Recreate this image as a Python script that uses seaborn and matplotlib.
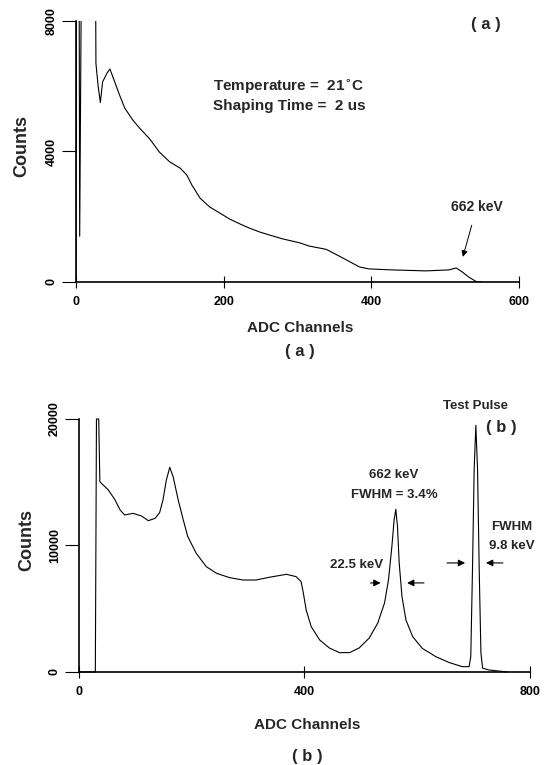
import matplotlib
matplotlib.use("Agg")
import matplotlib.pyplot as plt
import seaborn as sns

#------------------------------------------------------------------
# (a) spectrum at 21 C, 2 us shaping time
a_channel = [0, 1, 4, 5, 8, 26, 27, 30, 33, 36, 42, 46, 50, 59, 66, 77, 86, 100,
             113, 127, 141, 150, 157, 168, 181, 195, 208, 222, 235, 249, 262, 280,
             303, 316, 339, 361, 384, 397, 428, 474, 505, 515, 523, 532, 543, 550]
a_counts = [0, 12000, 12000, 1400, 12000, 12000, 6700, 6000, 5500, 6130, 6400, 6530,
            6280, 5730, 5330, 4960, 4720, 4380, 3980, 3680, 3490, 3280, 2970, 2570,
            2300, 2110, 1930, 1780, 1650, 1530, 1440, 1320, 1200, 1100, 1000, 740,
            460, 400, 370, 340, 370, 430, 310, 150, 0, 0]
a_xticks = [0, 200, 400, 600]
a_yticks = [0, 4000, 8000]

# (b) spectrum with test pulse
b_channel = [0, 29, 31, 35, 37, 43, 52, 64, 73, 81, 96, 111, 123, 135, 143, 149, 155,
             161, 167, 176, 185, 193, 208, 226, 244, 267, 291, 314, 338, 368, 385, 394,
             398, 403, 412, 427, 444, 462, 480, 497, 515, 530, 542, 549, 555, 559, 562,
             565, 568, 573, 580, 592, 609, 633, 657, 680, 692, 695, 698, 701, 704, 707,
             710, 713, 716, 727, 760]
b_counts = [0, 0, 20000, 20000, 15040, 14780, 14390, 13600, 12810, 12410, 12540, 12330,
            11960, 12150, 12590, 13600, 15180, 16180, 15440, 13600, 12020, 10700, 9380,
            8320, 7800, 7460, 7270, 7270, 7490, 7720, 7540, 7140, 6240, 4900, 3580, 2530,
            1900, 1530, 1530, 1900, 2690, 3870, 5450, 7270, 9900, 12020, 12860, 11490,
            8620, 5950, 4110, 2790, 1870, 1210, 740, 420, 420, 1210, 8000, 16000, 19500,
            16000, 8000, 1500, 300, 160, 0]
b_xticks = [0, 400, 800]
b_yticks = [0, 10000, 20000]
#------------------------------------------------------------------

sns.set_style("white")
plt.rcParams['font.family'] = ['Liberation Sans', 'DejaVu Sans']
plt.rcParams['font.weight'] = 'bold'
plt.rcParams['axes.labelweight'] = 'bold'

fig = plt.figure(figsize=(5.44, 7.65), dpi=100)
ax_a = fig.add_axes([0.1397, 0.6314, 0.8143, 0.3412])
ax_b = fig.add_axes([0.1452, 0.1216, 0.829, 0.3307])


def style_axes(ax, xticks, yticks, xlim, ylim, xlab_y, ylab_x):
    ax.set_xlim(*xlim)
    ax.set_ylim(*ylim)
    ax.set_xticks(xticks)
    ax.set_yticks(yticks)
    ax.set_xticklabels([str(t) for t in xticks])
    ax.set_yticklabels([str(t) for t in yticks])
    for s in ['top', 'right']:
        ax.spines[s].set_visible(False)
    for s in ['left', 'bottom']:
        ax.spines[s].set_linewidth(1.2)
        ax.spines[s].set_color('black')
    ax.tick_params(axis='x', direction='inout', length=8, width=0.8, pad=6,
                   labelsize=9, colors='black', bottom=True)
    ax.tick_params(axis='y', direction='out', length=10, width=0.8, pad=3,
                   labelsize=9, labelrotation=90, colors='black', left=True)
    for lab in ax.get_yticklabels():
        lab.set_va('center')
    ax.set_xlabel('ADC Channels', fontsize=11, fontweight='bold')
    ax.set_ylabel('Counts', fontsize=13, fontweight='bold')
    ax.xaxis.set_label_coords(0.506, xlab_y)
    ax.xaxis.label.set_va('center')
    ax.yaxis.set_label_coords(ylab_x, 0.52)
    ax.yaxis.label.set_va('center')
    ax.set_facecolor('white')


#-----------------------------
# panel (a)
sns.lineplot(x=a_channel, y=a_counts, ax=ax_a, color='black', lw=0.8, estimator=None)
style_axes(ax_a, a_xticks, a_yticks, (0, 600), (0, 8000), -0.176, -0.122)

ax_a.text(555, 7880, '( a )', fontsize=12, ha='center', va='center')
ax_a.text(185, 5980, 'Temperature =  21$^{\\circ}$C', fontsize=11, ha='left', va='center')
ax_a.text(185, 5390, 'Shaping Time =  2 us', fontsize=11, ha='left', va='center')
ax_a.annotate('662 keV', xy=(524, 770), xytext=(543, 2300), fontsize=10,
              ha='center', va='center',
              arrowprops=dict(arrowstyle='-|>', color='black', lw=0.7,
                              mutation_scale=9, shrinkA=6, shrinkB=0))

#-----------------------------
# panel (b)
sns.lineplot(x=b_channel, y=b_counts, ax=ax_b, color='black', lw=0.8, estimator=None)
for ln in ax_b.lines:
    ln.set_clip_on(False)
style_axes(ax_b, b_xticks, b_yticks, (0, 800), (0, 20000), -0.209, -0.115)

ax_b.text(704, 21030, 'Test Pulse', fontsize=9.5, ha='center', va='center')
ax_b.text(750, 19290, '( b )', fontsize=12, ha='center', va='center')
ax_b.text(559, 15570, '662 keV', fontsize=9.5, ha='center', va='center')
ax_b.text(559, 13990, 'FWHM = 3.4%', fontsize=9.5, ha='center', va='center')
ax_b.text(492, 8460, '22.5 keV', fontsize=9.5, ha='center', va='center')
ax_b.text(768, 11460, 'FWHM', fontsize=9.5, ha='center', va='center')
ax_b.text(768, 9960, '9.8 keV', fontsize=9.5, ha='center', va='center')

arrow = dict(arrowstyle='-|>', color='black', lw=0.8, mutation_scale=10,
             shrinkA=0, shrinkB=0)
# FWHM markers, 662 keV peak
ax_b.annotate('', xy=(535, 7040), xytext=(517, 7040), arrowprops=arrow)
ax_b.annotate('', xy=(582, 7040), xytext=(612, 7040), arrowprops=arrow)
# FWHM markers, test pulse
ax_b.annotate('', xy=(685, 8620), xytext=(653, 8620), arrowprops=arrow)
ax_b.annotate('', xy=(722, 8620), xytext=(752, 8620), arrowprops=arrow)

fig.text(300 / 544, 1 - 352 / 765, '( a )', fontsize=12, ha='center', va='center')
fig.text(307 / 544, 1 - 757 / 765, '( b )', fontsize=12, ha='center', va='center')

plt.savefig('out.png', dpi=100, facecolor='white')
